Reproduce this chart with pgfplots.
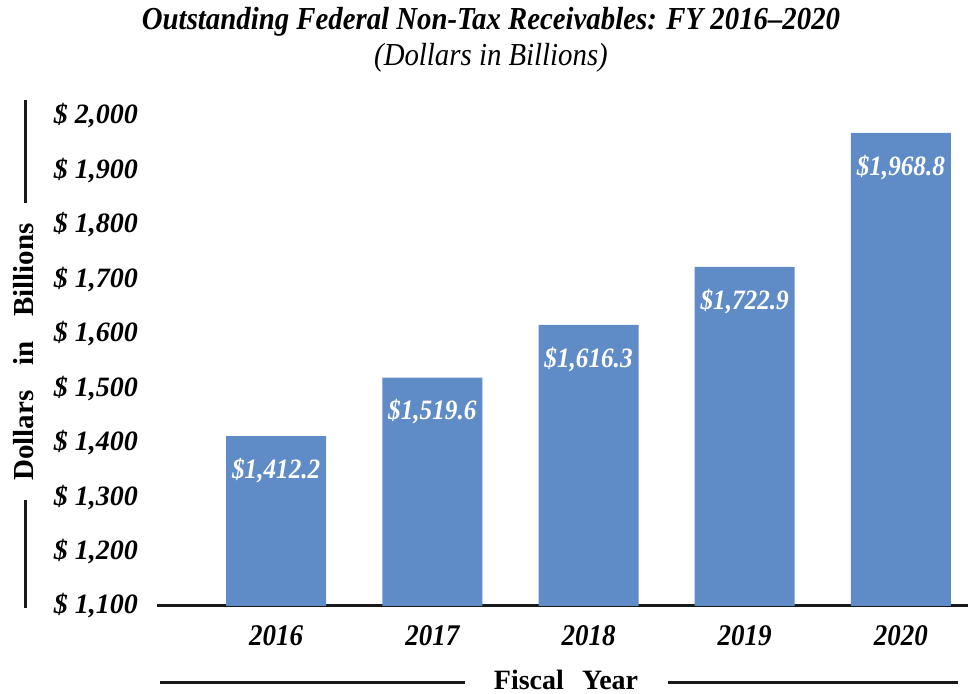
\documentclass[border=0pt]{standalone}
\usepackage{pgfplots}
\pgfplotsset{compat=1.18}
\usepackage{fontspec}
\setmainfont{Liberation Serif}
\newfontfamily\condensed[FakeStretch=0.9,Ligatures=TeX]{Liberation Serif}
\definecolor{barblue}{RGB}{95,140,199}
\begin{document}
\begin{tikzpicture}
\useasboundingbox (0,0) rectangle (484pt,347pt);
\begin{axis}[
  at={(78.5pt,44pt)}, anchor=south west,
  scale only axis, width=405.5pt, height=245pt,
  xmin=-0.763, xmax=4.43, ymin=1100, ymax=2000,
  ytick={1100,1200,...,2000},
  xtick={0,1,2,3,4},
  xticklabels={2016,2017,2018,2019,2020},
  major tick length=0pt,
  axis x line*=bottom, axis y line*=left,
  x axis line style={line width=1.5pt,-, color=black!90},
  y axis line style={draw=none},
  yticklabel={\$ \pgfmathprintnumber[fixed,1000 sep={,}]{\tick}},
  yticklabel style={font=\fontsize{14}{16}\selectfont\bfseries\itshape, anchor=east, xshift=-6pt, /pgf/number format/assume math mode=true},
  xticklabel style={font=\condensed\fontsize{15}{17}\selectfont\bfseries\itshape, anchor=north, yshift=-6pt},
  ybar, bar width=50pt,
  nodes near coords={\$\pgfmathprintnumber[fixed,fixed zerofill,precision=1,1000 sep={,}]{\pgfplotspointmeta}},
  nodes near coords style={font=\condensed\fontsize{14}{16}\selectfont\bfseries\itshape, color=white, anchor=north, yshift=-7.5pt, /pgf/number format/assume math mode=true},
  clip=false,
]
\addplot[fill=barblue, draw=none] coordinates {(0,1412.2) (1,1519.6) (2,1616.3) (3,1722.9) (4,1968.8)};
\end{axis}
\node at (245.5pt,336pt) {\condensed\fontsize{16}{18}\selectfont\bfseries\itshape Outstanding Federal Non-Tax Receivables: FY 2016–2020};
\node at (245.5pt,318pt) {\condensed\fontsize{16}{18}\selectfont\itshape (Dollars in Billions)};
\node[rotate=90] at (12pt,171pt) {\fontsize{14.5}{17}\selectfont\bfseries Dollars\hspace{0.6em} in\hspace{0.6em} Billions};
\draw[line width=1.5pt, color=black!90] (12.5pt,297pt) -- (12.5pt,245.5pt);
\draw[line width=1.5pt, color=black!90] (12.5pt,97pt) -- (12.5pt,43pt);
\node at (283pt,7pt) {\fontsize{14}{16}\selectfont\bfseries Fiscal\hspace{0.4em} Year};
\draw[line width=1.5pt, color=black!90] (80pt,5.5pt) -- (232.5pt,5.5pt);
\draw[line width=1.5pt, color=black!90] (334pt,5.5pt) -- (479pt,5.5pt);
\end{tikzpicture}
\end{document}
